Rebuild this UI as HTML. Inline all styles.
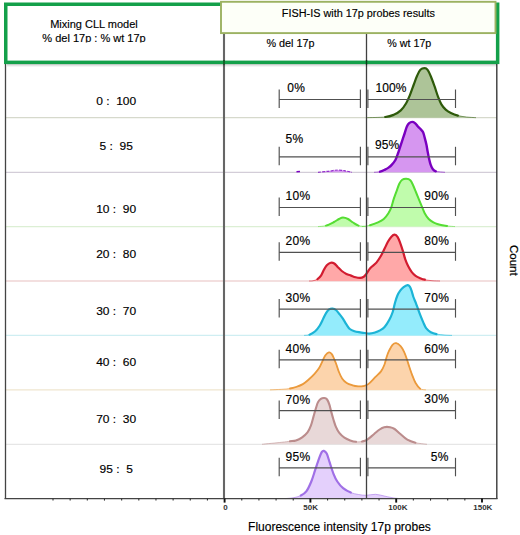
<!DOCTYPE html>
<html><head><meta charset="utf-8"><style>
html,body{margin:0;padding:0;background:#fff;}
svg{display:block;}
</style></head><body>
<svg width="520" height="535" viewBox="0 0 520 535">
<rect width="520" height="535" fill="#fff"/>
<line x1="5" y1="117.70" x2="497" y2="117.70" stroke="#d6d9cc" stroke-width="1.3"/>
<line x1="5" y1="172.30" x2="497" y2="172.30" stroke="#d3cdd8" stroke-width="1.3"/>
<line x1="5" y1="226.60" x2="497" y2="226.60" stroke="#dcefd4" stroke-width="1.3"/>
<line x1="5" y1="281.00" x2="497" y2="281.00" stroke="#efd5d5" stroke-width="1.3"/>
<line x1="5" y1="335.40" x2="497" y2="335.40" stroke="#cfeef2" stroke-width="1.3"/>
<line x1="5" y1="389.90" x2="497" y2="389.90" stroke="#efe6cf" stroke-width="1.3"/>
<line x1="5" y1="444.30" x2="497" y2="444.30" stroke="#e6e6e6" stroke-width="1.3"/>
<path d="M366.00 117.70 C369.20 117.58 380.57 117.48 385.20 117.00 C389.83 116.52 391.20 115.90 393.80 114.80 C396.40 113.70 398.77 112.28 400.80 110.40 C402.83 108.52 404.47 106.08 406.00 103.50 C407.53 100.92 408.70 98.07 410.00 94.90 C411.30 91.73 412.62 87.68 413.80 84.50 C414.98 81.32 416.00 78.25 417.10 75.80 C418.20 73.35 419.15 71.07 420.40 69.80 C421.65 68.53 423.40 68.20 424.60 68.20 C425.80 68.20 426.53 68.38 427.60 69.80 C428.67 71.22 429.85 73.97 431.00 76.70 C432.15 79.43 433.33 82.88 434.50 86.20 C435.67 89.52 436.85 93.57 438.00 96.60 C439.15 99.63 440.12 102.23 441.40 104.40 C442.68 106.57 444.12 108.17 445.70 109.60 C447.28 111.03 448.87 112.00 450.90 113.00 C452.93 114.00 455.30 114.93 457.90 115.60 C460.50 116.27 463.48 116.65 466.50 117.00 C469.52 117.35 474.42 117.58 476.00 117.70 L476.00 117.70 L366.00 117.70 Z" fill="#adc498" stroke="none"/>
<path d="M366.00 117.70 C369.20 117.58 380.57 117.48 385.20 117.00 C389.83 116.52 391.20 115.90 393.80 114.80 C396.40 113.70 398.77 112.28 400.80 110.40 C402.83 108.52 404.47 106.08 406.00 103.50 C407.53 100.92 408.70 98.07 410.00 94.90 C411.30 91.73 412.62 87.68 413.80 84.50 C414.98 81.32 416.00 78.25 417.10 75.80 C418.20 73.35 419.15 71.07 420.40 69.80 C421.65 68.53 423.40 68.20 424.60 68.20 C425.80 68.20 426.53 68.38 427.60 69.80 C428.67 71.22 429.85 73.97 431.00 76.70 C432.15 79.43 433.33 82.88 434.50 86.20 C435.67 89.52 436.85 93.57 438.00 96.60 C439.15 99.63 440.12 102.23 441.40 104.40 C442.68 106.57 444.12 108.17 445.70 109.60 C447.28 111.03 448.87 112.00 450.90 113.00 C452.93 114.00 455.30 114.93 457.90 115.60 C460.50 116.27 463.48 116.65 466.50 117.00 C469.52 117.35 474.42 117.58 476.00 117.70" fill="none" stroke="#2e5a0a" stroke-width="1.0" stroke-opacity="0.55" stroke-linejoin="round"/>
<path d="M385.20 117.00 C389.83 116.52 391.20 115.90 393.80 114.80 C396.40 113.70 398.77 112.28 400.80 110.40 C402.83 108.52 404.47 106.08 406.00 103.50 C407.53 100.92 408.70 98.07 410.00 94.90 C411.30 91.73 412.62 87.68 413.80 84.50 C414.98 81.32 416.00 78.25 417.10 75.80 C418.20 73.35 419.15 71.07 420.40 69.80 C421.65 68.53 423.40 68.20 424.60 68.20 C425.80 68.20 426.53 68.38 427.60 69.80 C428.67 71.22 429.85 73.97 431.00 76.70 C432.15 79.43 433.33 82.88 434.50 86.20 C435.67 89.52 436.85 93.57 438.00 96.60 C439.15 99.63 440.12 102.23 441.40 104.40 C442.68 106.57 444.12 108.17 445.70 109.60 C447.28 111.03 448.87 112.00 450.90 113.00 C452.93 114.00 455.30 114.93 457.90 115.60" fill="none" stroke="#2e5a0a" stroke-width="2.20" stroke-linejoin="round" stroke-linecap="round"/>
<path d="M374.00 172.30 C375.00 172.20 378.17 172.15 380.00 171.70 C381.83 171.25 383.58 170.28 385.00 169.60 C386.42 168.92 387.35 168.43 388.50 167.60 C389.65 166.77 390.75 165.87 391.90 164.60 C393.05 163.33 394.43 161.73 395.40 160.00 C396.37 158.27 396.93 156.32 397.70 154.20 C398.47 152.08 399.23 149.60 400.00 147.30 C400.77 145.00 401.53 142.70 402.30 140.40 C403.07 138.10 403.83 135.82 404.60 133.50 C405.37 131.18 406.13 128.23 406.90 126.50 C407.67 124.77 408.33 123.87 409.20 123.10 C410.07 122.33 411.13 121.90 412.10 121.90 C413.07 121.90 414.03 122.33 415.00 123.10 C415.97 123.87 416.93 125.45 417.90 126.50 C418.87 127.55 419.93 128.43 420.80 129.40 C421.67 130.37 422.43 130.85 423.10 132.30 C423.77 133.75 424.23 135.98 424.80 138.10 C425.37 140.22 426.02 142.70 426.50 145.00 C426.98 147.30 427.27 149.60 427.70 151.90 C428.13 154.20 428.62 156.68 429.10 158.80 C429.58 160.92 429.97 162.87 430.60 164.60 C431.23 166.33 432.03 168.08 432.90 169.20 C433.77 170.32 434.75 170.87 435.80 171.30 C436.85 171.73 437.67 171.63 439.20 171.80 C440.73 171.97 444.03 172.22 445.00 172.30 L445.00 172.30 L374.00 172.30 Z" fill="#d696f0" stroke="none"/>
<path d="M374.00 172.30 C375.00 172.20 378.17 172.15 380.00 171.70 C381.83 171.25 383.58 170.28 385.00 169.60 C386.42 168.92 387.35 168.43 388.50 167.60 C389.65 166.77 390.75 165.87 391.90 164.60 C393.05 163.33 394.43 161.73 395.40 160.00 C396.37 158.27 396.93 156.32 397.70 154.20 C398.47 152.08 399.23 149.60 400.00 147.30 C400.77 145.00 401.53 142.70 402.30 140.40 C403.07 138.10 403.83 135.82 404.60 133.50 C405.37 131.18 406.13 128.23 406.90 126.50 C407.67 124.77 408.33 123.87 409.20 123.10 C410.07 122.33 411.13 121.90 412.10 121.90 C413.07 121.90 414.03 122.33 415.00 123.10 C415.97 123.87 416.93 125.45 417.90 126.50 C418.87 127.55 419.93 128.43 420.80 129.40 C421.67 130.37 422.43 130.85 423.10 132.30 C423.77 133.75 424.23 135.98 424.80 138.10 C425.37 140.22 426.02 142.70 426.50 145.00 C426.98 147.30 427.27 149.60 427.70 151.90 C428.13 154.20 428.62 156.68 429.10 158.80 C429.58 160.92 429.97 162.87 430.60 164.60 C431.23 166.33 432.03 168.08 432.90 169.20 C433.77 170.32 434.75 170.87 435.80 171.30 C436.85 171.73 437.67 171.63 439.20 171.80 C440.73 171.97 444.03 172.22 445.00 172.30" fill="none" stroke="#7a00c0" stroke-width="1.0" stroke-opacity="0.55" stroke-linejoin="round"/>
<path d="M380.00 171.70 C381.83 171.25 383.58 170.28 385.00 169.60 C386.42 168.92 387.35 168.43 388.50 167.60 C389.65 166.77 390.75 165.87 391.90 164.60 C393.05 163.33 394.43 161.73 395.40 160.00 C396.37 158.27 396.93 156.32 397.70 154.20 C398.47 152.08 399.23 149.60 400.00 147.30 C400.77 145.00 401.53 142.70 402.30 140.40 C403.07 138.10 403.83 135.82 404.60 133.50 C405.37 131.18 406.13 128.23 406.90 126.50 C407.67 124.77 408.33 123.87 409.20 123.10 C410.07 122.33 411.13 121.90 412.10 121.90 C413.07 121.90 414.03 122.33 415.00 123.10 C415.97 123.87 416.93 125.45 417.90 126.50 C418.87 127.55 419.93 128.43 420.80 129.40 C421.67 130.37 422.43 130.85 423.10 132.30 C423.77 133.75 424.23 135.98 424.80 138.10 C425.37 140.22 426.02 142.70 426.50 145.00 C426.98 147.30 427.27 149.60 427.70 151.90 C428.13 154.20 428.62 156.68 429.10 158.80 C429.58 160.92 429.97 162.87 430.60 164.60 C431.23 166.33 432.03 168.08 432.90 169.20 C433.77 170.32 434.75 170.87 435.80 171.30" fill="none" stroke="#7a00c0" stroke-width="2.40" stroke-linejoin="round" stroke-linecap="round"/>
<path d="M318.00 172.30 C319.67 172.13 324.67 171.68 328.00 171.30 C331.33 170.92 335.00 170.05 338.00 170.00 C341.00 169.95 343.67 170.62 346.00 171.00 C348.33 171.38 351.00 172.08 352.00 172.30 Z" fill="#d696f0" stroke="none"/>
<path d="M318.00 172.30 C319.67 172.13 324.67 171.68 328.00 171.30 C331.33 170.92 335.00 170.05 338.00 170.00 C341.00 169.95 343.67 170.62 346.00 171.00 C348.33 171.38 351.00 172.08 352.00 172.30" fill="none" stroke="#7a00c0" stroke-opacity="0.75" stroke-width="1.2" stroke-dasharray="3 1.2"/>
<line x1="296.5" y1="171.8" x2="300" y2="171.5" stroke="#7a00c0" stroke-width="1.4"/>
<path d="M318.00 226.60 C319.33 226.43 323.33 226.37 326.00 225.60 C328.67 224.83 331.83 223.10 334.00 222.00 C336.17 220.90 337.50 219.73 339.00 219.00 C340.50 218.27 341.50 217.60 343.00 217.60 C344.50 217.60 346.33 218.18 348.00 219.00 C349.67 219.82 351.25 221.40 353.00 222.50 C354.75 223.60 356.33 224.92 358.50 225.60 C360.67 226.28 364.75 226.43 366.00 226.60 L366.00 226.60 L318.00 226.60 Z" fill="#c0fcac" stroke="none"/>
<path d="M318.00 226.60 C319.33 226.43 323.33 226.37 326.00 225.60 C328.67 224.83 331.83 223.10 334.00 222.00 C336.17 220.90 337.50 219.73 339.00 219.00 C340.50 218.27 341.50 217.60 343.00 217.60 C344.50 217.60 346.33 218.18 348.00 219.00 C349.67 219.82 351.25 221.40 353.00 222.50 C354.75 223.60 356.33 224.92 358.50 225.60 C360.67 226.28 364.75 226.43 366.00 226.60" fill="none" stroke="#55dd33" stroke-width="1.0" stroke-opacity="0.55" stroke-linejoin="round"/>
<path d="M326.00 225.60 C328.67 224.83 331.83 223.10 334.00 222.00 C336.17 220.90 337.50 219.73 339.00 219.00 C340.50 218.27 341.50 217.60 343.00 217.60 C344.50 217.60 346.33 218.18 348.00 219.00 C349.67 219.82 351.25 221.40 353.00 222.50 C354.75 223.60 356.33 224.92 358.50 225.60" fill="none" stroke="#55dd33" stroke-width="2.00" stroke-linejoin="round" stroke-linecap="round"/>
<path d="M362.00 226.60 C363.33 226.37 367.33 225.90 370.00 225.20 C372.67 224.50 375.70 223.43 378.00 222.40 C380.30 221.37 382.07 220.53 383.80 219.00 C385.53 217.47 387.15 215.13 388.40 213.20 C389.65 211.27 390.43 209.70 391.30 207.40 C392.17 205.10 392.73 202.08 393.60 199.40 C394.47 196.72 395.55 193.90 396.50 191.30 C397.45 188.70 398.35 185.72 399.30 183.80 C400.25 181.88 401.03 180.63 402.20 179.80 C403.37 178.97 404.95 178.72 406.30 178.80 C407.65 178.88 409.15 179.18 410.30 180.30 C411.45 181.42 412.23 183.47 413.20 185.50 C414.17 187.53 415.15 190.18 416.10 192.50 C417.05 194.82 417.95 197.10 418.90 199.40 C419.85 201.70 420.83 204.00 421.80 206.30 C422.77 208.60 423.55 211.08 424.70 213.20 C425.85 215.32 427.25 217.47 428.70 219.00 C430.15 220.53 431.85 221.53 433.40 222.40 C434.95 223.27 435.73 223.62 438.00 224.20 C440.27 224.78 444.17 225.50 447.00 225.90 C449.83 226.30 453.67 226.48 455.00 226.60 L455.00 226.60 L362.00 226.60 Z" fill="#c0fcac" stroke="none"/>
<path d="M362.00 226.60 C363.33 226.37 367.33 225.90 370.00 225.20 C372.67 224.50 375.70 223.43 378.00 222.40 C380.30 221.37 382.07 220.53 383.80 219.00 C385.53 217.47 387.15 215.13 388.40 213.20 C389.65 211.27 390.43 209.70 391.30 207.40 C392.17 205.10 392.73 202.08 393.60 199.40 C394.47 196.72 395.55 193.90 396.50 191.30 C397.45 188.70 398.35 185.72 399.30 183.80 C400.25 181.88 401.03 180.63 402.20 179.80 C403.37 178.97 404.95 178.72 406.30 178.80 C407.65 178.88 409.15 179.18 410.30 180.30 C411.45 181.42 412.23 183.47 413.20 185.50 C414.17 187.53 415.15 190.18 416.10 192.50 C417.05 194.82 417.95 197.10 418.90 199.40 C419.85 201.70 420.83 204.00 421.80 206.30 C422.77 208.60 423.55 211.08 424.70 213.20 C425.85 215.32 427.25 217.47 428.70 219.00 C430.15 220.53 431.85 221.53 433.40 222.40 C434.95 223.27 435.73 223.62 438.00 224.20 C440.27 224.78 444.17 225.50 447.00 225.90 C449.83 226.30 453.67 226.48 455.00 226.60" fill="none" stroke="#55dd33" stroke-width="1.0" stroke-opacity="0.55" stroke-linejoin="round"/>
<path d="M370.00 225.20 C372.67 224.50 375.70 223.43 378.00 222.40 C380.30 221.37 382.07 220.53 383.80 219.00 C385.53 217.47 387.15 215.13 388.40 213.20 C389.65 211.27 390.43 209.70 391.30 207.40 C392.17 205.10 392.73 202.08 393.60 199.40 C394.47 196.72 395.55 193.90 396.50 191.30 C397.45 188.70 398.35 185.72 399.30 183.80 C400.25 181.88 401.03 180.63 402.20 179.80 C403.37 178.97 404.95 178.72 406.30 178.80 C407.65 178.88 409.15 179.18 410.30 180.30 C411.45 181.42 412.23 183.47 413.20 185.50 C414.17 187.53 415.15 190.18 416.10 192.50 C417.05 194.82 417.95 197.10 418.90 199.40 C419.85 201.70 420.83 204.00 421.80 206.30 C422.77 208.60 423.55 211.08 424.70 213.20 C425.85 215.32 427.25 217.47 428.70 219.00 C430.15 220.53 431.85 221.53 433.40 222.40 C434.95 223.27 435.73 223.62 438.00 224.20 C440.27 224.78 444.17 225.50 447.00 225.90" fill="none" stroke="#55dd33" stroke-width="2.00" stroke-linejoin="round" stroke-linecap="round"/>
<path d="M309.00 281.00 C309.65 280.97 311.48 281.12 312.90 280.80 C314.32 280.48 316.15 279.97 317.50 279.10 C318.85 278.23 319.93 277.15 321.00 275.60 C322.07 274.05 322.93 271.53 323.90 269.80 C324.87 268.07 325.65 266.38 326.80 265.20 C327.95 264.02 329.55 262.98 330.80 262.70 C332.05 262.42 333.15 262.78 334.30 263.50 C335.45 264.22 336.45 265.75 337.70 267.00 C338.95 268.25 340.35 269.85 341.80 271.00 C343.25 272.15 344.87 273.13 346.40 273.90 C347.93 274.67 349.47 275.03 351.00 275.60 C352.53 276.17 354.07 276.92 355.60 277.30 C357.13 277.68 358.85 277.98 360.20 277.90 C361.55 277.82 362.73 277.40 363.70 276.80 C364.67 276.20 364.85 275.80 366.00 274.30 C367.15 272.80 368.87 269.75 370.60 267.80 C372.33 265.85 374.67 264.62 376.40 262.60 C378.13 260.58 379.65 258.00 381.00 255.70 C382.35 253.40 383.35 251.12 384.50 248.80 C385.65 246.48 386.75 243.82 387.90 241.80 C389.05 239.78 390.28 237.88 391.40 236.70 C392.52 235.52 393.55 234.62 394.60 234.70 C395.65 234.78 396.70 235.63 397.70 237.20 C398.70 238.77 399.73 241.78 400.60 244.10 C401.47 246.42 402.13 248.60 402.90 251.10 C403.67 253.60 404.33 256.60 405.20 259.10 C406.07 261.60 407.03 263.98 408.10 266.10 C409.17 268.22 410.35 270.17 411.60 271.80 C412.85 273.43 414.17 274.83 415.60 275.90 C417.03 276.97 418.67 277.57 420.20 278.20 C421.73 278.83 422.83 279.28 424.80 279.70 C426.77 280.12 429.47 280.48 432.00 280.70 C434.53 280.92 438.67 280.95 440.00 281.00 L440.00 281.00 L309.00 281.00 Z" fill="#ffa8a8" stroke="none"/>
<path d="M309.00 281.00 C309.65 280.97 311.48 281.12 312.90 280.80 C314.32 280.48 316.15 279.97 317.50 279.10 C318.85 278.23 319.93 277.15 321.00 275.60 C322.07 274.05 322.93 271.53 323.90 269.80 C324.87 268.07 325.65 266.38 326.80 265.20 C327.95 264.02 329.55 262.98 330.80 262.70 C332.05 262.42 333.15 262.78 334.30 263.50 C335.45 264.22 336.45 265.75 337.70 267.00 C338.95 268.25 340.35 269.85 341.80 271.00 C343.25 272.15 344.87 273.13 346.40 273.90 C347.93 274.67 349.47 275.03 351.00 275.60 C352.53 276.17 354.07 276.92 355.60 277.30 C357.13 277.68 358.85 277.98 360.20 277.90 C361.55 277.82 362.73 277.40 363.70 276.80 C364.67 276.20 364.85 275.80 366.00 274.30 C367.15 272.80 368.87 269.75 370.60 267.80 C372.33 265.85 374.67 264.62 376.40 262.60 C378.13 260.58 379.65 258.00 381.00 255.70 C382.35 253.40 383.35 251.12 384.50 248.80 C385.65 246.48 386.75 243.82 387.90 241.80 C389.05 239.78 390.28 237.88 391.40 236.70 C392.52 235.52 393.55 234.62 394.60 234.70 C395.65 234.78 396.70 235.63 397.70 237.20 C398.70 238.77 399.73 241.78 400.60 244.10 C401.47 246.42 402.13 248.60 402.90 251.10 C403.67 253.60 404.33 256.60 405.20 259.10 C406.07 261.60 407.03 263.98 408.10 266.10 C409.17 268.22 410.35 270.17 411.60 271.80 C412.85 273.43 414.17 274.83 415.60 275.90 C417.03 276.97 418.67 277.57 420.20 278.20 C421.73 278.83 422.83 279.28 424.80 279.70 C426.77 280.12 429.47 280.48 432.00 280.70 C434.53 280.92 438.67 280.95 440.00 281.00" fill="none" stroke="#d21c30" stroke-width="1.0" stroke-opacity="0.55" stroke-linejoin="round"/>
<path d="M317.50 279.10 C318.85 278.23 319.93 277.15 321.00 275.60 C322.07 274.05 322.93 271.53 323.90 269.80 C324.87 268.07 325.65 266.38 326.80 265.20 C327.95 264.02 329.55 262.98 330.80 262.70 C332.05 262.42 333.15 262.78 334.30 263.50 C335.45 264.22 336.45 265.75 337.70 267.00 C338.95 268.25 340.35 269.85 341.80 271.00 C343.25 272.15 344.87 273.13 346.40 273.90 C347.93 274.67 349.47 275.03 351.00 275.60 C352.53 276.17 354.07 276.92 355.60 277.30 C357.13 277.68 358.85 277.98 360.20 277.90 C361.55 277.82 362.73 277.40 363.70 276.80 C364.67 276.20 364.85 275.80 366.00 274.30 C367.15 272.80 368.87 269.75 370.60 267.80 C372.33 265.85 374.67 264.62 376.40 262.60 C378.13 260.58 379.65 258.00 381.00 255.70 C382.35 253.40 383.35 251.12 384.50 248.80 C385.65 246.48 386.75 243.82 387.90 241.80 C389.05 239.78 390.28 237.88 391.40 236.70 C392.52 235.52 393.55 234.62 394.60 234.70 C395.65 234.78 396.70 235.63 397.70 237.20 C398.70 238.77 399.73 241.78 400.60 244.10 C401.47 246.42 402.13 248.60 402.90 251.10 C403.67 253.60 404.33 256.60 405.20 259.10 C406.07 261.60 407.03 263.98 408.10 266.10 C409.17 268.22 410.35 270.17 411.60 271.80 C412.85 273.43 414.17 274.83 415.60 275.90 C417.03 276.97 418.67 277.57 420.20 278.20 C421.73 278.83 422.83 279.28 424.80 279.70" fill="none" stroke="#d21c30" stroke-width="2.20" stroke-linejoin="round" stroke-linecap="round"/>
<path d="M304.00 335.40 C304.92 335.28 307.63 335.38 309.50 334.70 C311.37 334.02 313.48 332.83 315.20 331.30 C316.92 329.77 318.45 327.62 319.80 325.50 C321.15 323.38 322.23 320.72 323.30 318.60 C324.37 316.48 325.23 314.33 326.20 312.80 C327.17 311.27 328.05 310.12 329.10 309.40 C330.15 308.68 331.35 308.40 332.50 308.50 C333.65 308.60 334.85 309.08 336.00 310.00 C337.15 310.92 338.25 312.57 339.40 314.00 C340.55 315.43 341.73 316.87 342.90 318.60 C344.07 320.33 345.25 322.67 346.40 324.40 C347.55 326.13 348.47 327.85 349.80 329.00 C351.13 330.15 352.67 330.73 354.40 331.30 C356.13 331.87 358.47 332.12 360.20 332.40 C361.93 332.68 363.30 332.80 364.80 333.00 C366.30 333.20 367.50 333.68 369.20 333.60 C370.90 333.52 373.20 333.03 375.00 332.50 C376.80 331.97 378.40 331.32 380.00 330.40 C381.60 329.48 383.07 328.72 384.60 327.00 C386.13 325.28 387.85 322.60 389.20 320.10 C390.55 317.60 391.73 314.88 392.70 312.00 C393.67 309.12 394.23 305.50 395.00 302.80 C395.77 300.10 396.43 297.82 397.30 295.80 C398.17 293.78 399.15 292.13 400.20 290.70 C401.25 289.27 402.38 288.12 403.60 287.20 C404.82 286.28 406.47 285.30 407.50 285.20 C408.53 285.10 409.10 285.60 409.80 286.60 C410.50 287.60 411.10 289.47 411.70 291.20 C412.30 292.93 412.72 295.07 413.40 297.00 C414.08 298.93 415.02 300.78 415.80 302.80 C416.58 304.82 417.33 307.00 418.10 309.10 C418.87 311.20 419.53 313.18 420.40 315.40 C421.27 317.62 422.35 320.28 423.30 322.40 C424.25 324.52 424.85 326.47 426.10 328.10 C427.35 329.73 429.07 331.20 430.80 332.20 C432.53 333.20 434.13 333.62 436.50 334.10 C438.87 334.58 442.42 334.88 445.00 335.10 C447.58 335.32 450.83 335.35 452.00 335.40 L452.00 335.40 L304.00 335.40 Z" fill="#94ecfc" stroke="none"/>
<path d="M304.00 335.40 C304.92 335.28 307.63 335.38 309.50 334.70 C311.37 334.02 313.48 332.83 315.20 331.30 C316.92 329.77 318.45 327.62 319.80 325.50 C321.15 323.38 322.23 320.72 323.30 318.60 C324.37 316.48 325.23 314.33 326.20 312.80 C327.17 311.27 328.05 310.12 329.10 309.40 C330.15 308.68 331.35 308.40 332.50 308.50 C333.65 308.60 334.85 309.08 336.00 310.00 C337.15 310.92 338.25 312.57 339.40 314.00 C340.55 315.43 341.73 316.87 342.90 318.60 C344.07 320.33 345.25 322.67 346.40 324.40 C347.55 326.13 348.47 327.85 349.80 329.00 C351.13 330.15 352.67 330.73 354.40 331.30 C356.13 331.87 358.47 332.12 360.20 332.40 C361.93 332.68 363.30 332.80 364.80 333.00 C366.30 333.20 367.50 333.68 369.20 333.60 C370.90 333.52 373.20 333.03 375.00 332.50 C376.80 331.97 378.40 331.32 380.00 330.40 C381.60 329.48 383.07 328.72 384.60 327.00 C386.13 325.28 387.85 322.60 389.20 320.10 C390.55 317.60 391.73 314.88 392.70 312.00 C393.67 309.12 394.23 305.50 395.00 302.80 C395.77 300.10 396.43 297.82 397.30 295.80 C398.17 293.78 399.15 292.13 400.20 290.70 C401.25 289.27 402.38 288.12 403.60 287.20 C404.82 286.28 406.47 285.30 407.50 285.20 C408.53 285.10 409.10 285.60 409.80 286.60 C410.50 287.60 411.10 289.47 411.70 291.20 C412.30 292.93 412.72 295.07 413.40 297.00 C414.08 298.93 415.02 300.78 415.80 302.80 C416.58 304.82 417.33 307.00 418.10 309.10 C418.87 311.20 419.53 313.18 420.40 315.40 C421.27 317.62 422.35 320.28 423.30 322.40 C424.25 324.52 424.85 326.47 426.10 328.10 C427.35 329.73 429.07 331.20 430.80 332.20 C432.53 333.20 434.13 333.62 436.50 334.10 C438.87 334.58 442.42 334.88 445.00 335.10 C447.58 335.32 450.83 335.35 452.00 335.40" fill="none" stroke="#1cb4d6" stroke-width="1.0" stroke-opacity="0.55" stroke-linejoin="round"/>
<path d="M309.50 334.70 C311.37 334.02 313.48 332.83 315.20 331.30 C316.92 329.77 318.45 327.62 319.80 325.50 C321.15 323.38 322.23 320.72 323.30 318.60 C324.37 316.48 325.23 314.33 326.20 312.80 C327.17 311.27 328.05 310.12 329.10 309.40 C330.15 308.68 331.35 308.40 332.50 308.50 C333.65 308.60 334.85 309.08 336.00 310.00 C337.15 310.92 338.25 312.57 339.40 314.00 C340.55 315.43 341.73 316.87 342.90 318.60 C344.07 320.33 345.25 322.67 346.40 324.40 C347.55 326.13 348.47 327.85 349.80 329.00 C351.13 330.15 352.67 330.73 354.40 331.30 C356.13 331.87 358.47 332.12 360.20 332.40 C361.93 332.68 363.30 332.80 364.80 333.00 C366.30 333.20 367.50 333.68 369.20 333.60 C370.90 333.52 373.20 333.03 375.00 332.50 C376.80 331.97 378.40 331.32 380.00 330.40 C381.60 329.48 383.07 328.72 384.60 327.00 C386.13 325.28 387.85 322.60 389.20 320.10 C390.55 317.60 391.73 314.88 392.70 312.00 C393.67 309.12 394.23 305.50 395.00 302.80 C395.77 300.10 396.43 297.82 397.30 295.80 C398.17 293.78 399.15 292.13 400.20 290.70 C401.25 289.27 402.38 288.12 403.60 287.20 C404.82 286.28 406.47 285.30 407.50 285.20 C408.53 285.10 409.10 285.60 409.80 286.60 C410.50 287.60 411.10 289.47 411.70 291.20 C412.30 292.93 412.72 295.07 413.40 297.00 C414.08 298.93 415.02 300.78 415.80 302.80 C416.58 304.82 417.33 307.00 418.10 309.10 C418.87 311.20 419.53 313.18 420.40 315.40 C421.27 317.62 422.35 320.28 423.30 322.40 C424.25 324.52 424.85 326.47 426.10 328.10 C427.35 329.73 429.07 331.20 430.80 332.20 C432.53 333.20 434.13 333.62 436.50 334.10" fill="none" stroke="#1cb4d6" stroke-width="2.20" stroke-linejoin="round" stroke-linecap="round"/>
<path d="M270.00 389.90 C271.92 389.80 278.17 389.53 281.50 389.30 C284.83 389.07 287.58 388.88 290.00 388.50 C292.42 388.12 293.85 387.73 296.00 387.00 C298.15 386.27 300.78 385.35 302.90 384.10 C305.02 382.85 306.77 381.22 308.70 379.50 C310.63 377.78 312.77 375.72 314.50 373.80 C316.23 371.88 317.77 370.12 319.10 368.00 C320.43 365.88 321.45 363.22 322.50 361.10 C323.55 358.98 324.33 356.75 325.40 355.30 C326.47 353.85 327.83 352.60 328.90 352.40 C329.97 352.20 330.93 353.03 331.80 354.10 C332.67 355.17 333.33 357.07 334.10 358.80 C334.87 360.53 335.63 362.40 336.40 364.50 C337.17 366.60 337.75 369.08 338.70 371.40 C339.65 373.72 340.77 376.47 342.10 378.40 C343.43 380.33 344.97 381.85 346.70 383.00 C348.43 384.15 350.62 384.75 352.50 385.30 C354.38 385.85 356.25 386.15 358.00 386.30 C359.75 386.45 361.28 386.57 363.00 386.20 C364.72 385.83 366.27 385.60 368.30 384.10 C370.33 382.60 373.08 379.32 375.20 377.20 C377.32 375.08 379.45 373.52 381.00 371.40 C382.55 369.28 383.53 366.98 384.50 364.50 C385.47 362.02 386.03 358.80 386.80 356.50 C387.57 354.20 388.15 352.63 389.10 350.70 C390.05 348.77 391.32 346.15 392.50 344.90 C393.68 343.65 394.85 343.00 396.20 343.20 C397.55 343.40 399.28 344.67 400.60 346.10 C401.92 347.53 403.05 349.60 404.10 351.80 C405.15 354.00 406.03 356.80 406.90 359.30 C407.77 361.80 408.43 364.20 409.30 366.80 C410.17 369.40 411.05 372.20 412.10 374.90 C413.15 377.60 414.25 380.70 415.60 383.00 C416.95 385.30 418.47 387.55 420.20 388.70 C421.93 389.85 425.03 389.70 426.00 389.90 L426.00 389.90 L270.00 389.90 Z" fill="#fcd4ac" stroke="none"/>
<path d="M270.00 389.90 C271.92 389.80 278.17 389.53 281.50 389.30 C284.83 389.07 287.58 388.88 290.00 388.50 C292.42 388.12 293.85 387.73 296.00 387.00 C298.15 386.27 300.78 385.35 302.90 384.10 C305.02 382.85 306.77 381.22 308.70 379.50 C310.63 377.78 312.77 375.72 314.50 373.80 C316.23 371.88 317.77 370.12 319.10 368.00 C320.43 365.88 321.45 363.22 322.50 361.10 C323.55 358.98 324.33 356.75 325.40 355.30 C326.47 353.85 327.83 352.60 328.90 352.40 C329.97 352.20 330.93 353.03 331.80 354.10 C332.67 355.17 333.33 357.07 334.10 358.80 C334.87 360.53 335.63 362.40 336.40 364.50 C337.17 366.60 337.75 369.08 338.70 371.40 C339.65 373.72 340.77 376.47 342.10 378.40 C343.43 380.33 344.97 381.85 346.70 383.00 C348.43 384.15 350.62 384.75 352.50 385.30 C354.38 385.85 356.25 386.15 358.00 386.30 C359.75 386.45 361.28 386.57 363.00 386.20 C364.72 385.83 366.27 385.60 368.30 384.10 C370.33 382.60 373.08 379.32 375.20 377.20 C377.32 375.08 379.45 373.52 381.00 371.40 C382.55 369.28 383.53 366.98 384.50 364.50 C385.47 362.02 386.03 358.80 386.80 356.50 C387.57 354.20 388.15 352.63 389.10 350.70 C390.05 348.77 391.32 346.15 392.50 344.90 C393.68 343.65 394.85 343.00 396.20 343.20 C397.55 343.40 399.28 344.67 400.60 346.10 C401.92 347.53 403.05 349.60 404.10 351.80 C405.15 354.00 406.03 356.80 406.90 359.30 C407.77 361.80 408.43 364.20 409.30 366.80 C410.17 369.40 411.05 372.20 412.10 374.90 C413.15 377.60 414.25 380.70 415.60 383.00 C416.95 385.30 418.47 387.55 420.20 388.70 C421.93 389.85 425.03 389.70 426.00 389.90" fill="none" stroke="#eb9a3c" stroke-width="1.0" stroke-opacity="0.55" stroke-linejoin="round"/>
<path d="M290.00 388.50 C292.42 388.12 293.85 387.73 296.00 387.00 C298.15 386.27 300.78 385.35 302.90 384.10 C305.02 382.85 306.77 381.22 308.70 379.50 C310.63 377.78 312.77 375.72 314.50 373.80 C316.23 371.88 317.77 370.12 319.10 368.00 C320.43 365.88 321.45 363.22 322.50 361.10 C323.55 358.98 324.33 356.75 325.40 355.30 C326.47 353.85 327.83 352.60 328.90 352.40 C329.97 352.20 330.93 353.03 331.80 354.10 C332.67 355.17 333.33 357.07 334.10 358.80 C334.87 360.53 335.63 362.40 336.40 364.50 C337.17 366.60 337.75 369.08 338.70 371.40 C339.65 373.72 340.77 376.47 342.10 378.40 C343.43 380.33 344.97 381.85 346.70 383.00 C348.43 384.15 350.62 384.75 352.50 385.30 C354.38 385.85 356.25 386.15 358.00 386.30 C359.75 386.45 361.28 386.57 363.00 386.20 C364.72 385.83 366.27 385.60 368.30 384.10 C370.33 382.60 373.08 379.32 375.20 377.20 C377.32 375.08 379.45 373.52 381.00 371.40 C382.55 369.28 383.53 366.98 384.50 364.50 C385.47 362.02 386.03 358.80 386.80 356.50 C387.57 354.20 388.15 352.63 389.10 350.70 C390.05 348.77 391.32 346.15 392.50 344.90 C393.68 343.65 394.85 343.00 396.20 343.20 C397.55 343.40 399.28 344.67 400.60 346.10 C401.92 347.53 403.05 349.60 404.10 351.80 C405.15 354.00 406.03 356.80 406.90 359.30 C407.77 361.80 408.43 364.20 409.30 366.80 C410.17 369.40 411.05 372.20 412.10 374.90 C413.15 377.60 414.25 380.70 415.60 383.00 C416.95 385.30 418.47 387.55 420.20 388.70" fill="none" stroke="#eb9a3c" stroke-width="1.80" stroke-linejoin="round" stroke-linecap="round"/>
<path d="M262.00 444.30 C265.25 443.97 276.83 442.80 281.50 442.30 C286.17 441.80 287.58 441.62 290.00 441.30 C292.42 440.98 294.03 441.02 296.00 440.40 C297.97 439.78 299.88 438.93 301.80 437.60 C303.72 436.27 305.97 434.43 307.50 432.40 C309.03 430.37 310.03 427.90 311.00 425.40 C311.97 422.90 312.53 420.08 313.30 417.40 C314.07 414.72 314.83 411.80 315.60 409.30 C316.37 406.80 317.03 404.13 317.90 402.40 C318.77 400.67 319.73 399.63 320.80 398.90 C321.87 398.17 323.25 397.90 324.30 398.00 C325.35 398.10 326.25 398.38 327.10 399.50 C327.95 400.62 328.72 402.68 329.40 404.70 C330.08 406.72 330.52 409.10 331.20 411.60 C331.88 414.10 332.73 417.20 333.50 419.70 C334.27 422.20 334.83 424.40 335.80 426.60 C336.77 428.80 337.87 431.07 339.30 432.90 C340.73 434.73 342.58 436.35 344.40 437.60 C346.22 438.85 348.27 439.70 350.20 440.40 C352.13 441.10 354.03 441.62 356.00 441.80 C357.97 441.98 360.18 441.82 362.00 441.50 C363.82 441.18 364.92 441.12 366.90 439.90 C368.88 438.68 371.78 435.93 373.90 434.20 C376.02 432.47 377.88 430.67 379.60 429.50 C381.32 428.33 382.47 427.58 384.20 427.20 C385.93 426.82 388.27 426.90 390.00 427.20 C391.73 427.50 392.87 427.87 394.60 429.00 C396.33 430.13 398.28 432.22 400.40 434.00 C402.52 435.78 404.80 438.25 407.30 439.70 C409.80 441.15 412.12 441.93 415.40 442.70 C418.68 443.47 425.07 444.03 427.00 444.30 L427.00 444.30 L262.00 444.30 Z" fill="#e8d8d8" stroke="none"/>
<path d="M262.00 444.30 C265.25 443.97 276.83 442.80 281.50 442.30 C286.17 441.80 287.58 441.62 290.00 441.30 C292.42 440.98 294.03 441.02 296.00 440.40 C297.97 439.78 299.88 438.93 301.80 437.60 C303.72 436.27 305.97 434.43 307.50 432.40 C309.03 430.37 310.03 427.90 311.00 425.40 C311.97 422.90 312.53 420.08 313.30 417.40 C314.07 414.72 314.83 411.80 315.60 409.30 C316.37 406.80 317.03 404.13 317.90 402.40 C318.77 400.67 319.73 399.63 320.80 398.90 C321.87 398.17 323.25 397.90 324.30 398.00 C325.35 398.10 326.25 398.38 327.10 399.50 C327.95 400.62 328.72 402.68 329.40 404.70 C330.08 406.72 330.52 409.10 331.20 411.60 C331.88 414.10 332.73 417.20 333.50 419.70 C334.27 422.20 334.83 424.40 335.80 426.60 C336.77 428.80 337.87 431.07 339.30 432.90 C340.73 434.73 342.58 436.35 344.40 437.60 C346.22 438.85 348.27 439.70 350.20 440.40 C352.13 441.10 354.03 441.62 356.00 441.80 C357.97 441.98 360.18 441.82 362.00 441.50 C363.82 441.18 364.92 441.12 366.90 439.90 C368.88 438.68 371.78 435.93 373.90 434.20 C376.02 432.47 377.88 430.67 379.60 429.50 C381.32 428.33 382.47 427.58 384.20 427.20 C385.93 426.82 388.27 426.90 390.00 427.20 C391.73 427.50 392.87 427.87 394.60 429.00 C396.33 430.13 398.28 432.22 400.40 434.00 C402.52 435.78 404.80 438.25 407.30 439.70 C409.80 441.15 412.12 441.93 415.40 442.70 C418.68 443.47 425.07 444.03 427.00 444.30" fill="none" stroke="#bb8c8c" stroke-width="1.0" stroke-opacity="0.55" stroke-linejoin="round"/>
<path d="M290.00 441.30 C292.42 440.98 294.03 441.02 296.00 440.40 C297.97 439.78 299.88 438.93 301.80 437.60 C303.72 436.27 305.97 434.43 307.50 432.40 C309.03 430.37 310.03 427.90 311.00 425.40 C311.97 422.90 312.53 420.08 313.30 417.40 C314.07 414.72 314.83 411.80 315.60 409.30 C316.37 406.80 317.03 404.13 317.90 402.40 C318.77 400.67 319.73 399.63 320.80 398.90 C321.87 398.17 323.25 397.90 324.30 398.00 C325.35 398.10 326.25 398.38 327.10 399.50 C327.95 400.62 328.72 402.68 329.40 404.70 C330.08 406.72 330.52 409.10 331.20 411.60 C331.88 414.10 332.73 417.20 333.50 419.70 C334.27 422.20 334.83 424.40 335.80 426.60 C336.77 428.80 337.87 431.07 339.30 432.90 C340.73 434.73 342.58 436.35 344.40 437.60 C346.22 438.85 348.27 439.70 350.20 440.40 C352.13 441.10 354.03 441.62 356.00 441.80" fill="none" stroke="#bb8c8c" stroke-width="2.10" stroke-linejoin="round" stroke-linecap="round"/>
<path d="M362.00 441.50 C363.82 441.18 364.92 441.12 366.90 439.90 C368.88 438.68 371.78 435.93 373.90 434.20 C376.02 432.47 377.88 430.67 379.60 429.50 C381.32 428.33 382.47 427.58 384.20 427.20 C385.93 426.82 388.27 426.90 390.00 427.20 C391.73 427.50 392.87 427.87 394.60 429.00 C396.33 430.13 398.28 432.22 400.40 434.00 C402.52 435.78 404.80 438.25 407.30 439.70 C409.80 441.15 412.12 441.93 415.40 442.70" fill="none" stroke="#bb8c8c" stroke-width="2.10" stroke-linejoin="round" stroke-linecap="round"/>
<path d="M285.00 498.60 C286.35 498.47 290.47 498.30 293.10 497.80 C295.73 497.30 298.57 496.72 300.80 495.60 C303.03 494.48 304.75 493.45 306.50 491.10 C308.25 488.75 309.85 485.03 311.30 481.50 C312.75 477.97 313.92 473.72 315.20 469.90 C316.48 466.08 317.88 461.60 319.00 458.60 C320.12 455.60 321.10 453.18 321.90 451.90 C322.70 450.62 323.00 450.62 323.80 450.90 C324.60 451.18 325.73 451.72 326.70 453.60 C327.67 455.48 328.47 458.83 329.60 462.20 C330.73 465.57 332.22 470.58 333.50 473.80 C334.78 477.02 335.70 479.10 337.30 481.50 C338.90 483.90 340.85 486.35 343.10 488.20 C345.35 490.05 348.23 491.55 350.80 492.60 C353.37 493.65 355.93 494.05 358.50 494.50 C361.07 494.95 363.37 495.33 366.20 495.30 C369.03 495.27 372.37 494.15 375.50 494.30 C378.63 494.45 381.92 495.58 385.00 496.20 C388.08 496.82 391.50 497.60 394.00 498.00 C396.50 498.40 399.00 498.50 400.00 498.60 L400.00 498.60 L285.00 498.60 Z" fill="#e4d0fc" stroke="none"/>
<path d="M285.00 498.60 C286.35 498.47 290.47 498.30 293.10 497.80 C295.73 497.30 298.57 496.72 300.80 495.60 C303.03 494.48 304.75 493.45 306.50 491.10 C308.25 488.75 309.85 485.03 311.30 481.50 C312.75 477.97 313.92 473.72 315.20 469.90 C316.48 466.08 317.88 461.60 319.00 458.60 C320.12 455.60 321.10 453.18 321.90 451.90 C322.70 450.62 323.00 450.62 323.80 450.90 C324.60 451.18 325.73 451.72 326.70 453.60 C327.67 455.48 328.47 458.83 329.60 462.20 C330.73 465.57 332.22 470.58 333.50 473.80 C334.78 477.02 335.70 479.10 337.30 481.50 C338.90 483.90 340.85 486.35 343.10 488.20 C345.35 490.05 348.23 491.55 350.80 492.60 C353.37 493.65 355.93 494.05 358.50 494.50 C361.07 494.95 363.37 495.33 366.20 495.30 C369.03 495.27 372.37 494.15 375.50 494.30 C378.63 494.45 381.92 495.58 385.00 496.20 C388.08 496.82 391.50 497.60 394.00 498.00 C396.50 498.40 399.00 498.50 400.00 498.60" fill="none" stroke="#a070e6" stroke-width="1.0" stroke-opacity="0.55" stroke-linejoin="round"/>
<path d="M300.80 495.60 C303.03 494.48 304.75 493.45 306.50 491.10 C308.25 488.75 309.85 485.03 311.30 481.50 C312.75 477.97 313.92 473.72 315.20 469.90 C316.48 466.08 317.88 461.60 319.00 458.60 C320.12 455.60 321.10 453.18 321.90 451.90 C322.70 450.62 323.00 450.62 323.80 450.90 C324.60 451.18 325.73 451.72 326.70 453.60 C327.67 455.48 328.47 458.83 329.60 462.20 C330.73 465.57 332.22 470.58 333.50 473.80 C334.78 477.02 335.70 479.10 337.30 481.50 C338.90 483.90 340.85 486.35 343.10 488.20 C345.35 490.05 348.23 491.55 350.80 492.60" fill="none" stroke="#a070e6" stroke-width="2.20" stroke-linejoin="round" stroke-linecap="round"/>
<g stroke="#505050" stroke-width="1.15" fill="none">
<line x1="279.2" y1="99.50" x2="360.4" y2="99.50"/>
<line x1="279.2" y1="89.50" x2="279.2" y2="108.00"/>
<line x1="360.4" y1="89.50" x2="360.4" y2="108.00"/>
<line x1="367.9" y1="99.50" x2="455.5" y2="99.50"/>
<line x1="367.9" y1="89.50" x2="367.9" y2="108.00"/>
<line x1="455.5" y1="89.50" x2="455.5" y2="108.00"/>
</g>
<g stroke="#505050" stroke-width="1.15" fill="none">
<line x1="279.2" y1="156.80" x2="360.4" y2="156.80"/>
<line x1="279.2" y1="146.80" x2="279.2" y2="165.30"/>
<line x1="360.4" y1="146.80" x2="360.4" y2="165.30"/>
<line x1="367.9" y1="156.80" x2="455.5" y2="156.80"/>
<line x1="367.9" y1="146.80" x2="367.9" y2="165.30"/>
<line x1="455.5" y1="146.80" x2="455.5" y2="165.30"/>
</g>
<g stroke="#505050" stroke-width="1.15" fill="none">
<line x1="279.2" y1="207.50" x2="360.4" y2="207.50"/>
<line x1="279.2" y1="197.50" x2="279.2" y2="216.00"/>
<line x1="360.4" y1="197.50" x2="360.4" y2="216.00"/>
<line x1="367.9" y1="207.50" x2="455.5" y2="207.50"/>
<line x1="367.9" y1="197.50" x2="367.9" y2="216.00"/>
<line x1="455.5" y1="197.50" x2="455.5" y2="216.00"/>
</g>
<g stroke="#505050" stroke-width="1.15" fill="none">
<line x1="279.2" y1="252.30" x2="360.4" y2="252.30"/>
<line x1="279.2" y1="242.30" x2="279.2" y2="260.80"/>
<line x1="360.4" y1="242.30" x2="360.4" y2="260.80"/>
<line x1="367.9" y1="252.30" x2="455.5" y2="252.30"/>
<line x1="367.9" y1="242.30" x2="367.9" y2="260.80"/>
<line x1="455.5" y1="242.30" x2="455.5" y2="260.80"/>
</g>
<g stroke="#505050" stroke-width="1.15" fill="none">
<line x1="279.2" y1="309.10" x2="360.4" y2="309.10"/>
<line x1="279.2" y1="299.10" x2="279.2" y2="317.60"/>
<line x1="360.4" y1="299.10" x2="360.4" y2="317.60"/>
<line x1="367.9" y1="309.10" x2="455.5" y2="309.10"/>
<line x1="367.9" y1="299.10" x2="367.9" y2="317.60"/>
<line x1="455.5" y1="299.10" x2="455.5" y2="317.60"/>
</g>
<g stroke="#505050" stroke-width="1.15" fill="none">
<line x1="279.2" y1="359.80" x2="360.4" y2="359.80"/>
<line x1="279.2" y1="349.80" x2="279.2" y2="368.30"/>
<line x1="360.4" y1="349.80" x2="360.4" y2="368.30"/>
<line x1="367.9" y1="359.80" x2="455.5" y2="359.80"/>
<line x1="367.9" y1="349.80" x2="367.9" y2="368.30"/>
<line x1="455.5" y1="349.80" x2="455.5" y2="368.30"/>
</g>
<g stroke="#505050" stroke-width="1.15" fill="none">
<line x1="279.2" y1="410.60" x2="360.4" y2="410.60"/>
<line x1="279.2" y1="400.60" x2="279.2" y2="419.10"/>
<line x1="360.4" y1="400.60" x2="360.4" y2="419.10"/>
<line x1="367.9" y1="410.60" x2="455.5" y2="410.60"/>
<line x1="367.9" y1="400.60" x2="367.9" y2="419.10"/>
<line x1="455.5" y1="400.60" x2="455.5" y2="419.10"/>
</g>
<g stroke="#505050" stroke-width="1.15" fill="none">
<line x1="279.2" y1="467.80" x2="360.4" y2="467.80"/>
<line x1="279.2" y1="457.80" x2="279.2" y2="476.30"/>
<line x1="360.4" y1="457.80" x2="360.4" y2="476.30"/>
<line x1="367.9" y1="467.80" x2="455.5" y2="467.80"/>
<line x1="367.9" y1="457.80" x2="367.9" y2="476.30"/>
<line x1="455.5" y1="457.80" x2="455.5" y2="476.30"/>
</g>
<line x1="5.5" y1="62" x2="5.5" y2="499" stroke="#444" stroke-width="1.3"/>
<line x1="224.0" y1="33" x2="224.0" y2="499" stroke="#666" stroke-width="2.1"/>
<line x1="366.5" y1="33" x2="366.5" y2="499" stroke="#404040" stroke-width="1.3"/>
<line x1="496.8" y1="62" x2="496.8" y2="499" stroke="#3a3a3a" stroke-width="1.4"/>
<line x1="4.5" y1="498.7" x2="497.5" y2="498.7" stroke="#444" stroke-width="1.3"/>
<line x1="53.00" y1="498.5" x2="53.00" y2="500.6" stroke="#333" stroke-width="1.1"/>
<line x1="70.16" y1="498.5" x2="70.16" y2="500.6" stroke="#333" stroke-width="1.1"/>
<line x1="87.32" y1="498.5" x2="87.32" y2="500.6" stroke="#333" stroke-width="1.1"/>
<line x1="104.48" y1="498.5" x2="104.48" y2="500.6" stroke="#333" stroke-width="1.1"/>
<line x1="121.64" y1="498.5" x2="121.64" y2="500.6" stroke="#333" stroke-width="1.1"/>
<line x1="138.80" y1="498.5" x2="138.80" y2="500.6" stroke="#333" stroke-width="1.1"/>
<line x1="155.96" y1="498.5" x2="155.96" y2="500.6" stroke="#333" stroke-width="1.1"/>
<line x1="173.12" y1="498.5" x2="173.12" y2="500.6" stroke="#333" stroke-width="1.1"/>
<line x1="190.28" y1="498.5" x2="190.28" y2="500.6" stroke="#333" stroke-width="1.1"/>
<line x1="207.44" y1="498.5" x2="207.44" y2="500.6" stroke="#333" stroke-width="1.1"/>
<line x1="224.60" y1="498.5" x2="224.60" y2="502.6" stroke="#111" stroke-width="1.9"/>
<line x1="241.76" y1="498.5" x2="241.76" y2="500.6" stroke="#333" stroke-width="1.1"/>
<line x1="258.92" y1="498.5" x2="258.92" y2="500.6" stroke="#333" stroke-width="1.1"/>
<line x1="276.08" y1="498.5" x2="276.08" y2="500.6" stroke="#333" stroke-width="1.1"/>
<line x1="293.24" y1="498.5" x2="293.24" y2="500.6" stroke="#333" stroke-width="1.1"/>
<line x1="310.40" y1="498.5" x2="310.40" y2="502.6" stroke="#111" stroke-width="1.9"/>
<line x1="327.56" y1="498.5" x2="327.56" y2="500.6" stroke="#333" stroke-width="1.1"/>
<line x1="344.72" y1="498.5" x2="344.72" y2="500.6" stroke="#333" stroke-width="1.1"/>
<line x1="361.88" y1="498.5" x2="361.88" y2="500.6" stroke="#333" stroke-width="1.1"/>
<line x1="379.04" y1="498.5" x2="379.04" y2="500.6" stroke="#333" stroke-width="1.1"/>
<line x1="396.20" y1="498.5" x2="396.20" y2="502.6" stroke="#111" stroke-width="1.9"/>
<line x1="413.36" y1="498.5" x2="413.36" y2="500.6" stroke="#333" stroke-width="1.1"/>
<line x1="430.52" y1="498.5" x2="430.52" y2="500.6" stroke="#333" stroke-width="1.1"/>
<line x1="447.68" y1="498.5" x2="447.68" y2="500.6" stroke="#333" stroke-width="1.1"/>
<line x1="464.84" y1="498.5" x2="464.84" y2="500.6" stroke="#333" stroke-width="1.1"/>
<line x1="482.00" y1="498.5" x2="482.00" y2="502.6" stroke="#111" stroke-width="1.9"/>
<text x="0" y="0" transform="translate(225.60 509.7) scale(1.25 1)" text-anchor="middle" font-family='"Liberation Sans", sans-serif' font-weight="bold" font-size="6.4" fill="#333">0</text>
<text x="0" y="0" transform="translate(310.70 509.7) scale(1.25 1)" text-anchor="middle" font-family='"Liberation Sans", sans-serif' font-weight="bold" font-size="6.4" fill="#333">50K</text>
<text x="0" y="0" transform="translate(397.90 509.7) scale(1.25 1)" text-anchor="middle" font-family='"Liberation Sans", sans-serif' font-weight="bold" font-size="6.4" fill="#333">100K</text>
<text x="0" y="0" transform="translate(482.80 509.7) scale(1.25 1)" text-anchor="middle" font-family='"Liberation Sans", sans-serif' font-weight="bold" font-size="6.4" fill="#333">150K</text>
<rect x="5.75" y="4.25" width="491.9" height="58.1" fill="none" stroke="#14a04a" stroke-width="3.5"/>
<defs><linearGradient id="sh" x1="0" y1="0" x2="0" y2="1"><stop offset="0" stop-color="#000" stop-opacity="0.2"/><stop offset="1" stop-color="#000" stop-opacity="0"/></linearGradient></defs>
<rect x="7" y="64" width="490" height="3.2" fill="url(#sh)"/>
<rect x="221" y="1.8" width="274.5" height="31.3" fill="#fdfff8" stroke="#9cb262" stroke-width="1.9"/>
<line x1="224.0" y1="60" x2="224.0" y2="64.5" stroke="#0a3a10" stroke-opacity="0.6" stroke-width="2"/>
<line x1="366.5" y1="60" x2="366.5" y2="64.5" stroke="#021a05" stroke-opacity="0.75" stroke-width="1.4"/>
<text x="94.00" y="27.80" font-family='"Liberation Sans", sans-serif' font-size="11" fill="#000" stroke="#000" stroke-width="0.15" text-anchor="middle" xml:space="preserve" >Mixing CLL model</text>
<clipPath id="c1"><rect x="0" y="30" width="220" height="12.5"/></clipPath>
<text x="94.00" y="42.20" font-family='"Liberation Sans", sans-serif' font-size="11" fill="#000" stroke="#000" stroke-width="0.15" text-anchor="middle" xml:space="preserve" clip-path="url(#c1)">% del 17p : % wt 17p</text>
<text x="358.40" y="16.90" font-family='"Liberation Sans", sans-serif' font-size="10.85" fill="#000" stroke="#000" stroke-width="0.15" text-anchor="middle" xml:space="preserve" >FISH-IS with 17p probes results</text>
<text x="290.40" y="46.50" font-family='"Liberation Sans", sans-serif' font-size="10.8" fill="#000" stroke="#000" stroke-width="0.15" text-anchor="middle" xml:space="preserve" >% del 17p</text>
<text x="409.30" y="46.50" font-family='"Liberation Sans", sans-serif' font-size="10.7" fill="#000" stroke="#000" stroke-width="0.15" text-anchor="middle" xml:space="preserve" >% wt 17p</text>
<text x="0.00" y="0.00" font-family='"Liberation Sans", sans-serif' font-size="11" fill="#000" stroke="#000" stroke-width="0.15" text-anchor="middle" xml:space="preserve" transform="translate(116.2 104.80) scale(1.09 1)">0 :  100</text>
<text x="287.20" y="91.90" font-family='"Liberation Sans", sans-serif' font-size="12" fill="#000" stroke="#000" stroke-width="0.15" text-anchor="start" xml:space="preserve" letter-spacing="0.35">0%</text>
<text x="375.50" y="91.90" font-family='"Liberation Sans", sans-serif' font-size="12" fill="#000" stroke="#000" stroke-width="0.15" text-anchor="start" xml:space="preserve" letter-spacing="0.1">100%</text>
<text x="0.00" y="0.00" font-family='"Liberation Sans", sans-serif' font-size="11" fill="#000" stroke="#000" stroke-width="0.15" text-anchor="middle" xml:space="preserve" transform="translate(116.2 149.60) scale(1.09 1)">5 :  95</text>
<text x="285.50" y="143.10" font-family='"Liberation Sans", sans-serif' font-size="12" fill="#000" stroke="#000" stroke-width="0.15" text-anchor="start" xml:space="preserve" letter-spacing="0.35">5%</text>
<text x="375.00" y="149.20" font-family='"Liberation Sans", sans-serif' font-size="12" fill="#000" stroke="#000" stroke-width="0.15" text-anchor="start" xml:space="preserve" letter-spacing="0.1">95%</text>
<text x="0.00" y="0.00" font-family='"Liberation Sans", sans-serif' font-size="11" fill="#000" stroke="#000" stroke-width="0.15" text-anchor="middle" xml:space="preserve" transform="translate(116.2 212.80) scale(1.09 1)">10 :  90</text>
<text x="285.50" y="200.00" font-family='"Liberation Sans", sans-serif' font-size="12" fill="#000" stroke="#000" stroke-width="0.15" text-anchor="start" xml:space="preserve" letter-spacing="0.35">10%</text>
<text x="424.20" y="200.00" font-family='"Liberation Sans", sans-serif' font-size="12" fill="#000" stroke="#000" stroke-width="0.15" text-anchor="start" xml:space="preserve" letter-spacing="0.35">90%</text>
<text x="0.00" y="0.00" font-family='"Liberation Sans", sans-serif' font-size="11" fill="#000" stroke="#000" stroke-width="0.15" text-anchor="middle" xml:space="preserve" transform="translate(116.2 257.80) scale(1.09 1)">20 :  80</text>
<text x="285.50" y="244.90" font-family='"Liberation Sans", sans-serif' font-size="12" fill="#000" stroke="#000" stroke-width="0.15" text-anchor="start" xml:space="preserve" letter-spacing="0.35">20%</text>
<text x="424.20" y="245.30" font-family='"Liberation Sans", sans-serif' font-size="12" fill="#000" stroke="#000" stroke-width="0.15" text-anchor="start" xml:space="preserve" letter-spacing="0.35">80%</text>
<text x="0.00" y="0.00" font-family='"Liberation Sans", sans-serif' font-size="11" fill="#000" stroke="#000" stroke-width="0.15" text-anchor="middle" xml:space="preserve" transform="translate(116.2 314.80) scale(1.09 1)">30 :  70</text>
<text x="285.50" y="301.60" font-family='"Liberation Sans", sans-serif' font-size="12" fill="#000" stroke="#000" stroke-width="0.15" text-anchor="start" xml:space="preserve" letter-spacing="0.35">30%</text>
<text x="424.20" y="302.00" font-family='"Liberation Sans", sans-serif' font-size="12" fill="#000" stroke="#000" stroke-width="0.15" text-anchor="start" xml:space="preserve" letter-spacing="0.35">70%</text>
<text x="0.00" y="0.00" font-family='"Liberation Sans", sans-serif' font-size="11" fill="#000" stroke="#000" stroke-width="0.15" text-anchor="middle" xml:space="preserve" transform="translate(116.2 365.80) scale(1.09 1)">40 :  60</text>
<text x="285.50" y="352.50" font-family='"Liberation Sans", sans-serif' font-size="12" fill="#000" stroke="#000" stroke-width="0.15" text-anchor="start" xml:space="preserve" letter-spacing="0.35">40%</text>
<text x="424.20" y="352.80" font-family='"Liberation Sans", sans-serif' font-size="12" fill="#000" stroke="#000" stroke-width="0.15" text-anchor="start" xml:space="preserve" letter-spacing="0.35">60%</text>
<text x="0.00" y="0.00" font-family='"Liberation Sans", sans-serif' font-size="11" fill="#000" stroke="#000" stroke-width="0.15" text-anchor="middle" xml:space="preserve" transform="translate(116.2 422.90) scale(1.09 1)">70 :  30</text>
<text x="285.50" y="403.50" font-family='"Liberation Sans", sans-serif' font-size="12" fill="#000" stroke="#000" stroke-width="0.15" text-anchor="start" xml:space="preserve" letter-spacing="0.35">70%</text>
<text x="424.20" y="403.20" font-family='"Liberation Sans", sans-serif' font-size="12" fill="#000" stroke="#000" stroke-width="0.15" text-anchor="start" xml:space="preserve" letter-spacing="0.35">30%</text>
<text x="0.00" y="0.00" font-family='"Liberation Sans", sans-serif' font-size="11" fill="#000" stroke="#000" stroke-width="0.15" text-anchor="middle" xml:space="preserve" transform="translate(116.2 472.80) scale(1.09 1)">95 :  5</text>
<text x="285.50" y="460.70" font-family='"Liberation Sans", sans-serif' font-size="12" fill="#000" stroke="#000" stroke-width="0.15" text-anchor="start" xml:space="preserve" letter-spacing="0.35">95%</text>
<text x="448.70" y="461.20" font-family='"Liberation Sans", sans-serif' font-size="12" fill="#000" stroke="#000" stroke-width="0.15" text-anchor="end" xml:space="preserve" letter-spacing="0.35">5%</text>
<text x="0" y="0" transform="translate(510.3 245) rotate(90)" font-family='"Liberation Sans", sans-serif' font-size="11.5" fill="#000" stroke="#000" stroke-width="0.25">Count</text>
<text x="248.10" y="531.00" font-family='"Liberation Sans", sans-serif' font-size="12" fill="#000" stroke="#000" stroke-width="0.15" text-anchor="start" xml:space="preserve" >Fluorescence intensity 17p probes</text>
</svg>
</body></html>
